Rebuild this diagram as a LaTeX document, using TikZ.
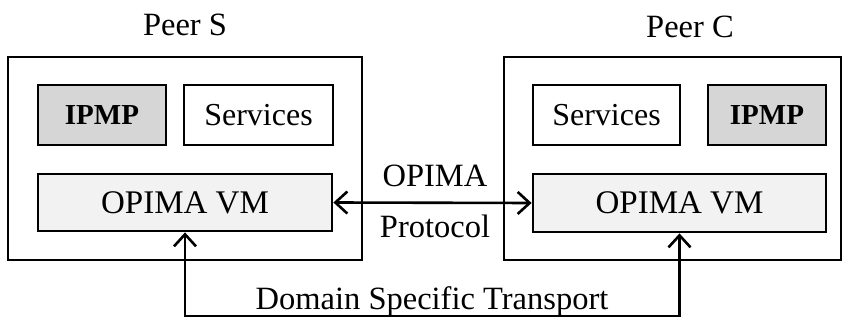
\documentclass[tikz,border=0pt]{standalone}
\usepackage{fontspec}
\setmainfont{Liberation Serif}
\usetikzlibrary{arrows.meta}
\definecolor{ipmpgray}{gray}{0.84}
\definecolor{vmgray}{gray}{0.95}
\tikzset{
  lbl/.style={font=\fontsize{32.5}{38}\selectfont, inner sep=0pt, anchor=base},
  peerbox/.style={draw, line width=2.8pt, inner sep=0pt},
  compbox/.style={draw, line width=2.8pt, inner sep=0pt, font=\fontsize{32}{38}\selectfont},
  ipmpbox/.style={compbox, fill=ipmpgray, font=\fontsize{29}{34}\selectfont\bfseries},
  vmbox/.style={compbox, fill=vmgray, font=\fontsize{33}{38}\selectfont},
  link/.style={line width=2.6pt, {Straight Barb[length=12pt,width=22pt,line width=2.6pt]}-{Straight Barb[length=12pt,width=22pt,line width=2.6pt]}}
}
\begin{document}
\begin{tikzpicture}[x=1pt,y=-1pt]
  \useasboundingbox (0,0) rectangle (845,320);

  % peer frames
  \node[peerbox, minimum width=354pt, minimum height=203pt] (peerS) at (185,158.5) {};
  \node[peerbox, minimum width=337pt, minimum height=203pt] (peerC) at (672.5,158.5) {};

  % titles
  \node[lbl] (titleS) at (185,36) {Peer S};
  \node[lbl] (titleC) at (690,38) {Peer C};

  % components of peer S
  \node[ipmpbox, minimum width=128pt, minimum height=60pt] (ipmpS) at (102,115) {IPMP};
  \node[compbox, minimum width=149pt, minimum height=60pt] (servS) at (258.5,115) {Services};
  \node[vmbox, minimum width=294pt, minimum height=57pt] (vmS) at (185,202.5) {OPIMA VM};

  % components of peer C
  \node[compbox, minimum width=147pt, minimum height=60pt] (servC) at (606.5,115) {Services};
  \node[ipmpbox, minimum width=118pt, minimum height=60pt] (ipmpC) at (767,115) {IPMP};
  \node[vmbox, minimum width=293pt, minimum height=58pt] (vmC) at (679.5,203) {OPIMA VM};

  % protocol link between the virtual machines
  \draw[link] (vmS.east) -- (vmC.west);
  \node[lbl] (protoA) at (435,187) {OPIMA};
  \node[lbl] (protoB) at (435,237) {Protocol};

  % transport link underneath
  \draw[link] (vmS.south) -- (vmS.south |- 0,316) -| (vmC.south);
  \node[lbl] (transport) at (432,309) {Domain Specific Transport};
\end{tikzpicture}
\end{document}
